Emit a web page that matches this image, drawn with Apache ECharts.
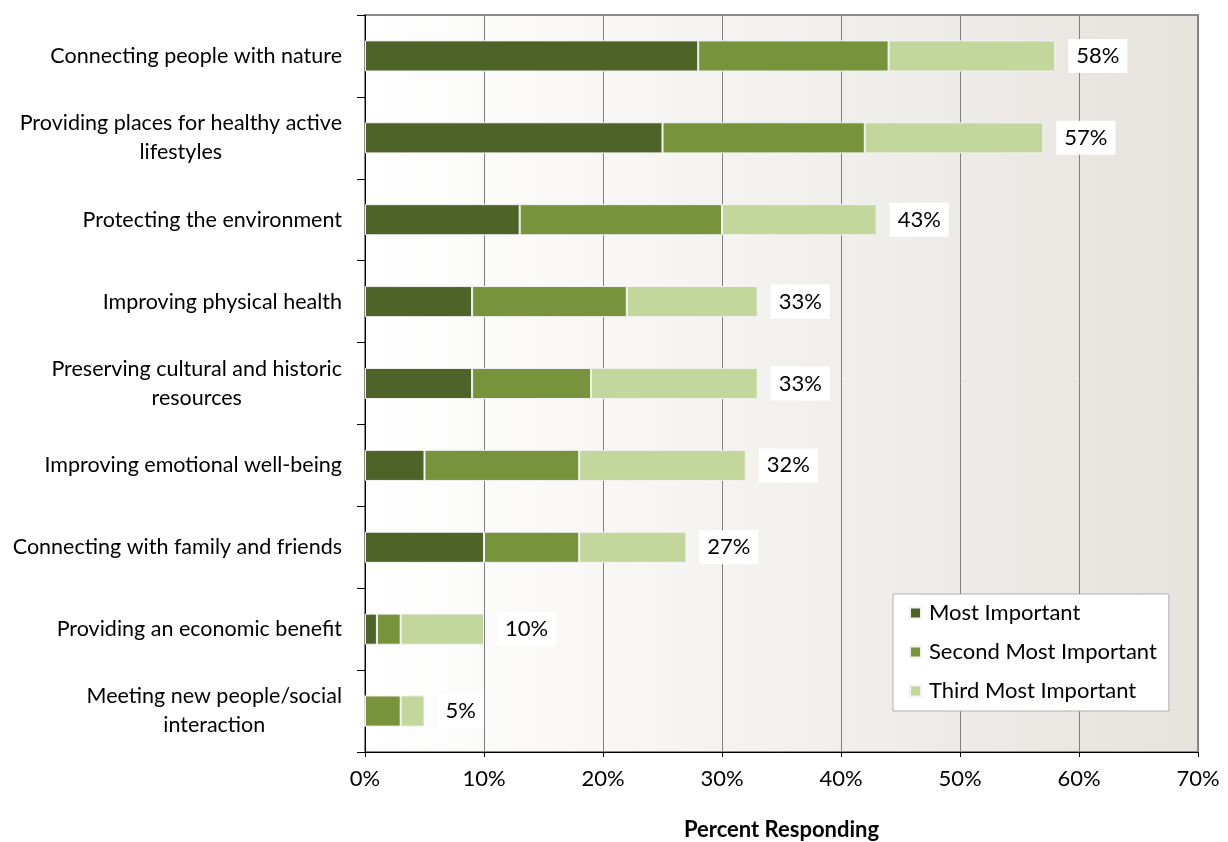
<!DOCTYPE html>
<html>
<head>
<meta charset="utf-8">
<script src="https://cdn.jsdelivr.net/npm/echarts@6/dist/echarts.min.js"></script>
<style>
  html, body { margin: 0; padding: 0; background: #fff; }
  #chart { width: 1228px; height: 842px; }
</style>
</head>
<body>
<div id="chart"></div>
<script>
const categories = [
  'Connecting people with nature',
  'Providing places for healthy active\nlifestyles',
  'Protecting the environment',
  'Improving physical health',
  'Preserving cultural and historic\nresources',
  'Improving emotional well-being',
  'Connecting with family and friends',
  'Providing an economic benefit',
  'Meeting new people/social\ninteraction'
];
const mostImportant = [28, 25, 13, 9, 9, 5, 10, 1, 0];
const secondMost = [16, 17, 17, 13, 10, 13, 8, 2, 3];
const thirdMost = [14, 15, 13, 11, 14, 14, 9, 7, 2];
const totals = [58, 57, 43, 33, 33, 32, 27, 10, 5];
const xTicks = [0, 10, 20, 30, 40, 50, 60, 70];

const colors = ['#4f6228', '#77933c', '#c3d69b'];
const font = 'Lato, "Open Sans", sans-serif';

const chart = echarts.init(document.getElementById('chart'));

function barSeries(name, data, idx) {
  return {
    name: name,
    type: 'bar',
    stack: 'total',
    data: data,
    barCategoryGap: '62%',
    itemStyle: { color: colors[idx], borderColor: '#f2f2f2', borderWidth: 1 }
  };
}

const third = barSeries('Third Most Important', thirdMost, 2);
third.label = {
  show: true,
  position: 'right',
  distance: 13,
  formatter: p => totals[p.dataIndex] + '%',
  color: '#000',
  fontFamily: font,
  fontSize: 22,
  backgroundColor: '#fff',
  padding: [7, 8, 5, 8]
};

const option = {
  animation: false,
  textStyle: { fontFamily: font },
  grid: {
    left: 365, right: 30, top: 15, bottom: 90,
    outerBoundsMode: 'none',
    show: true,
    borderColor: '#8a8a8a',
    borderWidth: 2,
    backgroundColor: new echarts.graphic.LinearGradient(0, 0, 1, 0, [
      { offset: 0, color: '#ffffff' },
      { offset: 1, color: '#e6e3de' }
    ])
  },
  legend: {
    orient: 'vertical',
    left: 893, top: 594,
    padding: [8, 12, 9, 16],
    itemGap: 17,
    itemWidth: 11, itemHeight: 11,
    icon: 'rect',
    backgroundColor: '#fff',
    borderColor: '#b0b0b0',
    borderWidth: 1,
    textStyle: { fontFamily: font, fontSize: 22, color: '#000', padding: [0, 0, 0, 3] },
    data: ['Most Important', 'Second Most Important', 'Third Most Important']
  },
  xAxis: {
    type: 'value',
    min: 0, max: 70, interval: 10,
    name: 'Percent Responding',
    nameLocation: 'middle',
    nameGap: 67,
    nameTextStyle: { fontFamily: font, fontSize: 22, fontWeight: 'bold', color: '#000' },
    axisLine: { show: true, lineStyle: { color: '#000', width: 1 } },
    axisTick: { show: true, length: 5, lineStyle: { color: '#000' } },
    axisLabel: {
      fontFamily: font, fontSize: 22, color: '#000', margin: 16,
      formatter: v => (xTicks.indexOf(v) >= 0 ? v + '%' : '')
    },
    splitLine: { show: true, lineStyle: { color: '#7f7f7f', width: 1 } }
  },
  yAxis: {
    type: 'category',
    inverse: true,
    data: categories,
    axisLine: { show: true, lineStyle: { color: '#000', width: 1 } },
    axisTick: { show: true, length: 8, lineStyle: { color: '#000' } },
    axisLabel: {
      margin: 23,
      align: 'right',
      color: '#000',
      fontFamily: font,
      fontSize: 21.5,
      lineHeight: 29,
      formatter: v => v.split('\n').map(s => '{c|' + s + '}').join('\n'),
      rich: { c: { align: 'center', fontFamily: font, fontSize: 21.5, lineHeight: 29, color: '#000' } }
    }
  },
  series: [
    barSeries('Most Important', mostImportant, 0),
    barSeries('Second Most Important', secondMost, 1),
    third
  ]
};

chart.setOption(option);
window.addEventListener('resize', function () { chart.resize(); });
</script>
</body>
</html>
